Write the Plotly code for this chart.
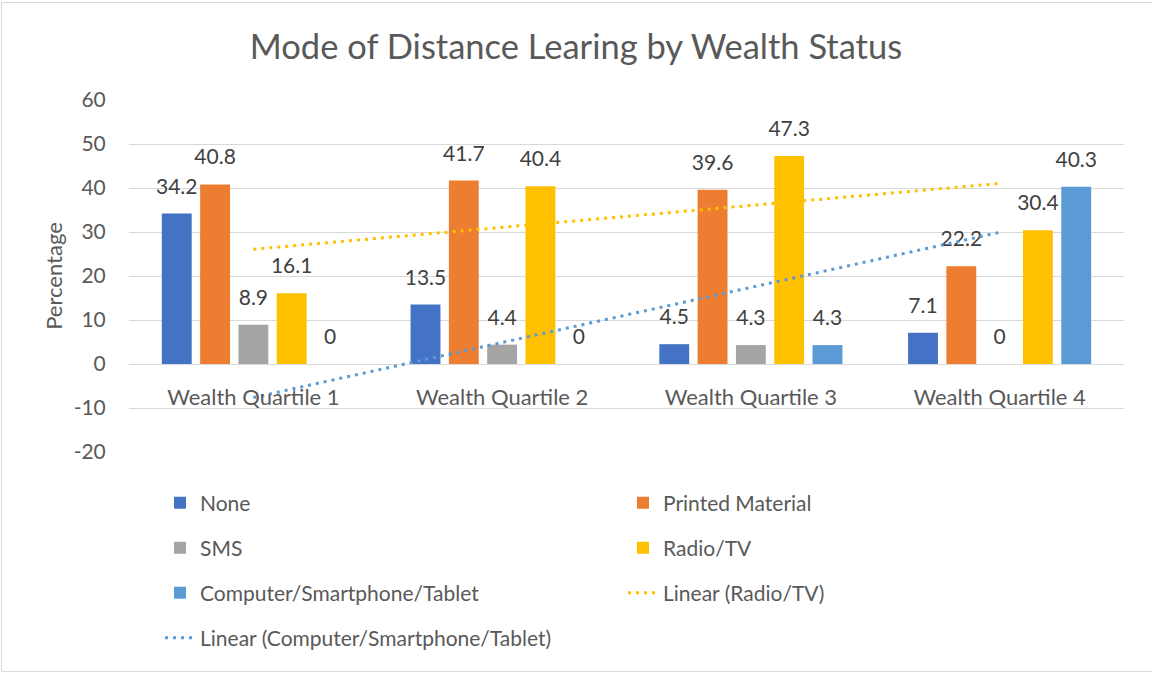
import numpy as np
import plotly.graph_objects as go

categories = ["Wealth Quartile 1", "Wealth Quartile 2", "Wealth Quartile 3", "Wealth Quartile 4"]
none_vals = [34.2, 13.5, 4.5, 7.1]
printed_vals = [40.8, 41.7, 39.6, 22.2]
sms_vals = [8.9, 4.4, 4.3, 0]
radio_vals = [16.1, 40.4, 47.3, 30.4]
computer_vals = [0, 0, 4.3, 40.3]
y_ticks = [-20, -10, 0, 10, 20, 30, 40, 50, 60]

series = [
    ("None", none_vals, "#4472C4"),
    ("Printed Material", printed_vals, "#ED7D31"),
    ("SMS", sms_vals, "#A5A5A5"),
    ("Radio/TV", radio_vals, "#FFC000"),
    ("Computer/Smartphone/Tablet", computer_vals, "#5B9BD5"),
]

FONT = "Lato"
TXT = "#595959"

# plot-area geometry in pixels
W, H = 1152, 673
L, R, T, B = 129, 1124, 100, 452
PW, PH = R - L, B - T

def px_x(px):
    return (px - L) / PW

def px_y(py):
    return (B - py) / PH

fig = go.Figure()

legend_pos = [
    (200, 503), (663, 503),
    (200, 548), (663, 548),
    (200, 593), (663, 593),
    (200, 638),
]
legend_names = ["legend"] + ["legend%d" % i for i in range(2, 8)]

for i, (name, vals, color) in enumerate(series):
    fig.add_trace(go.Bar(
        name=name, x=categories, y=vals,
        marker=dict(color=color, line=dict(width=0)),
        legend=legend_names[i],
        offsetgroup=str(i),
        hoverinfo="skip",
    ))

# data labels, grouped like the bars
for i, (name, vals, color) in enumerate(series):
    fig.add_trace(go.Scatter(
        name=name + " labels", x=categories, y=vals,
        mode="markers+text",
        marker=dict(size=22, opacity=0),
        text=[f"{v:g}" for v in vals],
        textposition="top center",
        textfont=dict(family=FONT, size=21, color="#404040"),
        offsetgroup=str(i),
        showlegend=False, cliponaxis=False,
        hoverinfo="skip",
    ))

# linear trendlines, drawn through the category centres (middle slot of the group)
xi = np.arange(1, len(categories) + 1)
trends = [("Linear (Radio/TV)", radio_vals, "#FFC000"),
          ("Linear (Computer/Smartphone/Tablet)", computer_vals, "#5B9BD5")]
for j, (name, vals, color) in enumerate(trends):
    slope, intercept = np.polyfit(xi, np.array(vals, dtype=float), 1)
    fit = slope * xi + intercept
    fig.add_trace(go.Scatter(
        name=name, x=categories, y=fit, mode="lines",
        line=dict(color=color, width=3, dash="3px,5px"),
        legend=legend_names[5 + j],
        offsetgroup="2",
        hoverinfo="skip",
    ))

layout_legends = {}
for k, (lx, ly) in enumerate(legend_pos):
    layout_legends[legend_names[k]] = dict(
        x=px_x(lx - 40), y=px_y(ly), xanchor="left", yanchor="middle",
        orientation="h", bgcolor="rgba(0,0,0,0)",
        font=dict(family=FONT, size=21, color=TXT),
        itemclick=False, itemdoubleclick=False,
    )

fig.update_layout(
    width=W, height=H,
    margin=dict(l=L, r=W - R, t=T, b=H - B, autoexpand=False),
    paper_bgcolor="white", plot_bgcolor="white",
    font=dict(family=FONT, color=TXT),
    title=dict(text="Mode of Distance Learing by Wealth Status",
               x=0.5, xref="container", xanchor="center",
               y=1 - 47 / H, yref="container", yanchor="middle",
               font=dict(family=FONT, size=34.5, color=TXT)),
    barmode="group", bargap=0.23, bargroupgap=0.22,
    scattermode="group", scattergap=0.23,
    showlegend=True,
    **layout_legends,
)

fig.update_xaxes(
    anchor="free", position=0.25,
    showline=False, showgrid=False, zeroline=False,
    ticks="outside", ticklen=14, tickcolor="rgba(0,0,0,0)",
    tickfont=dict(family=FONT, size=22, color=TXT),
)
fig.update_yaxes(
    range=[-20, 60], tickvals=y_ticks, ticktext=[str(v) for v in y_ticks],
    showgrid=True, gridcolor="#D9D9D9", gridwidth=1,
    zeroline=True, zerolinecolor="#D9D9D9", zerolinewidth=1, showline=False,
    ticks="outside", ticklen=18, tickcolor="rgba(0,0,0,0)",
    tickfont=dict(family=FONT, size=21, color=TXT),
    title=dict(text="Percentage", font=dict(family=FONT, size=22, color=TXT), standoff=4),
)

fig.add_shape(type="rect", xref="paper", yref="paper",
              x0=px_x(1.5), x1=px_x(1170), y0=px_y(671.5), y1=px_y(2.5),
              line=dict(color="#D9D9D9", width=1), layer="below")

fig.write_html("out.html", config={"displayModeBar": False},
               post_script="document.body.style.margin='0';document.body.style.padding='0';")
